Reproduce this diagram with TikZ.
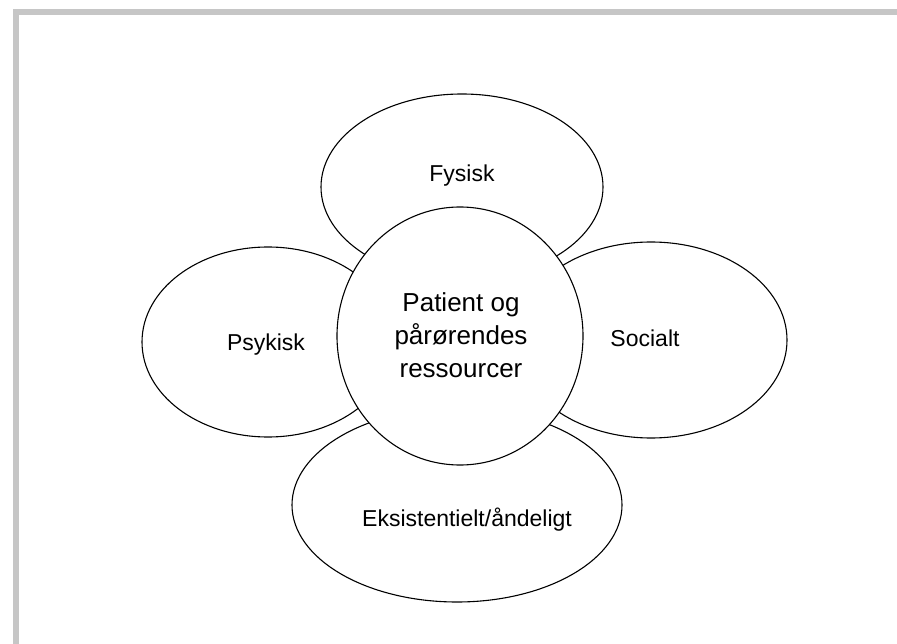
\documentclass[tikz,border=0pt]{standalone}
\usepackage{fontspec}
\setmainfont{Liberation Sans}
\usetikzlibrary{shapes.geometric}
\definecolor{framegrey}{HTML}{C6C6C6}
\begin{document}
\begin{tikzpicture}[x=1pt,y=-1pt,
  petal/.style={draw=black, fill=white, line width=1.1pt, ellipse, inner sep=0pt},
  lbl/.style={anchor=base, font=\fontsize{23}{28}\selectfont, inner sep=0pt},
  core/.style={align=center, font=\fontsize{26}{33}\selectfont, inner sep=0pt}]
\useasboundingbox (0,0) rectangle (897,644);
\fill[framegrey] (13,9) rectangle (897,15);
\fill[framegrey] (13,9) rectangle (19,644);
% petals
\node[petal, minimum width=282pt, minimum height=186pt] (fys) at (462,187) {};
\node[petal, minimum width=252pt, minimum height=190pt] (psy) at (268,342) {};
\node[petal, minimum width=272pt, minimum height=196pt] (soc) at (651,340) {};
\node[petal, minimum width=330pt, minimum height=194pt] (eks) at (457,505) {};
% centre
\node[petal, minimum width=246pt, minimum height=258pt] (ctr) at (460,336) {};
% labels
\node[lbl] (fystxt) at (462,182) {Fysisk};
\node[lbl] (psytxt) at (266,350) {Psykisk};
\node[lbl] (soctxt) at (645,347) {Socialt};
\node[lbl] (ekstxt) at (467,526) {Eksistentielt/åndeligt};
\node[core] (ctrtxt) at (461,335) {Patient og\\pårørendes\\ressourcer};
\end{tikzpicture}
\end{document}
